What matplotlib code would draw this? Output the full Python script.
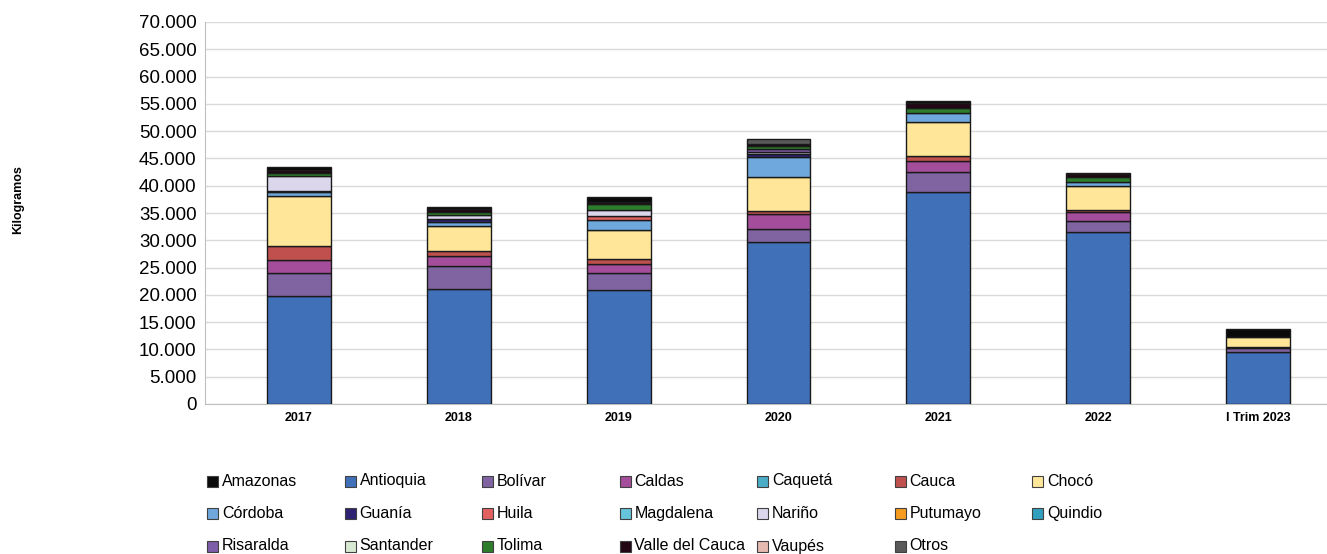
import numpy as np
import matplotlib.pyplot as plt
from matplotlib.patches import Rectangle

plt.rcParams['font.family'] = ['Liberation Sans', 'DejaVu Sans']

years = ['2017', '2018', '2019', '2020', '2021', '2022', 'I Trim 2023']

# kilogramos por departamento y año
amazonas = [500, 450, 950, 0, 300, 250, 1500]
antioquia = [19700, 21100, 20800, 29600, 38900, 31600, 9500]
bolivar = [4300, 4100, 3150, 2400, 3700, 1900, 700]
caldas = [2300, 2000, 1700, 2800, 2000, 1700, 200]
caqueta = [0, 0, 0, 0, 0, 0, 0]
cauca = [2700, 850, 900, 600, 850, 300, 0]
choco = [9050, 4550, 5300, 6250, 6150, 4450, 1800]
cordoba = [850, 800, 1800, 3550, 1700, 800, 0]
guania = [200, 500, 0, 600, 0, 0, 0]
huila = [0, 0, 750, 0, 0, 0, 0]
magdalena = [0, 0, 0, 0, 0, 0, 0]
narino = [2700, 700, 1100, 350, 0, 0, 0]
putumayo = [0, 0, 0, 0, 0, 0, 0]
quindio = [0, 0, 0, 0, 0, 0, 0]
risaralda = [0, 0, 0, 600, 0, 0, 0]
santander = [0, 0, 0, 0, 0, 0, 0]
tolima = [600, 600, 1100, 550, 1000, 850, 0]
valle = [500, 500, 350, 400, 900, 550, 0]
vaupes = [0, 0, 0, 0, 0, 0, 0]
otros = [0, 0, 0, 800, 0, 0, 0]

series = {
    'Amazonas': (amazonas, '#0a0a0a'),
    'Antioquia': (antioquia, '#4070b8'),
    'Bolívar': (bolivar, '#8064a2'),
    'Caldas': (caldas, '#a44d9b'),
    'Caquetá': (caqueta, '#4bacc6'),
    'Cauca': (cauca, '#c0504d'),
    'Chocó': (choco, '#ffe699'),
    'Córdoba': (cordoba, '#6fa8dc'),
    'Guanía': (guania, '#2e2373'),
    'Huila': (huila, '#e36060'),
    'Magdalena': (magdalena, '#66c5da'),
    'Nariño': (narino, '#dcd6ec'),
    'Putumayo': (putumayo, '#f79b1e'),
    'Quindio': (quindio, '#31a0be'),
    'Risaralda': (risaralda, '#7e5da9'),
    'Santander': (santander, '#d9ead3'),
    'Tolima': (tolima, '#2d7d2d'),
    'Valle del Cauca': (valle, '#220614'),
    'Vaupés': (vaupes, '#e6b9b0'),
    'Otros': (otros, '#595959'),
}
stack_order = list(series)[1:] + ['Amazonas']

fig = plt.figure(figsize=(13.27, 5.54), dpi=100)
ax = fig.add_axes([205 / 1327, 150 / 554, 1147 / 1327, 382 / 554])

x = np.arange(len(years))
bottom = np.zeros(len(years))
for name in stack_order:
    vals = np.array(series[name][0], dtype=float)
    lw = np.where(vals > 0, 1.0, 0.0)
    ax.bar(x, vals, 0.4, bottom=bottom, color=series[name][1],
           edgecolor='#1a1a1a', linewidth=lw, zorder=3)
    bottom += vals

ax.set_xlim(-0.5875, 6.5875)
ax.set_ylim(0, 70000)
ax.set_yticks(np.arange(0, 70001, 5000))
ax.set_yticklabels([f'{v:,}'.replace(',', '.') for v in range(0, 70001, 5000)],
                   fontsize=13.5)
ax.set_xticks(x)
ax.set_xticklabels(years, fontsize=9, fontweight='bold')
ax.tick_params(axis='both', length=0, pad=6)
ax.grid(axis='y', color='#d9d9d9', linewidth=1, zorder=0)
for s in ['top', 'right']:
    ax.spines[s].set_visible(False)
for s in ['left', 'bottom']:
    ax.spines[s].set_color('#bfbfbf')

fig.text(18 / 1327, 1 - 200 / 554, 'Kilogramos', rotation=90, fontsize=9,
         fontweight='bold', ha='center', va='center')

# leyenda en 7 columnas
names = list(series)
for i, name in enumerate(names):
    row, col = divmod(i, 7)
    px = 207 + col * 137.5
    py = 481 + row * 32.5
    fig.patches.append(Rectangle((px / 1327, 1 - (py + 5.5) / 554), 11 / 1327, 11 / 554,
                                 transform=fig.transFigure, facecolor=series[name][1],
                                 edgecolor='#404040', linewidth=0.8))
    fig.text((px + 15) / 1327, 1 - py / 554, name, fontsize=11.5, va='center', ha='left')

fig.savefig('out.png', dpi=100)
